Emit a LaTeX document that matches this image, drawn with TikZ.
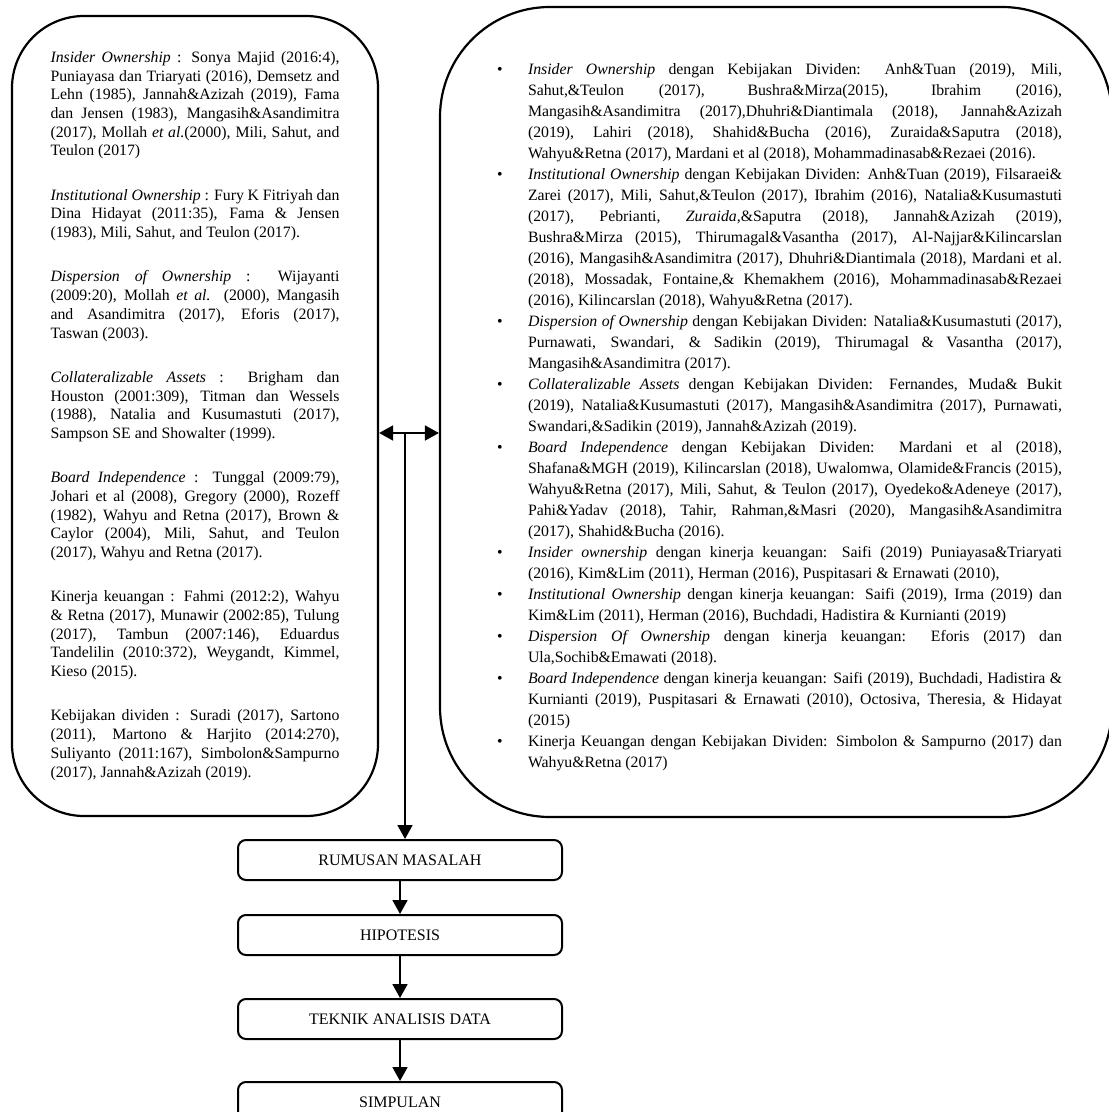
\documentclass[tikz,border=0pt]{standalone}
\usepackage{fontspec}
\setmainfont{Liberation Serif}
\usepackage{tikz}
\usetikzlibrary{arrows.meta,positioning}

\newcommand{\butir}{\par\hangindent=19pt\hangafter=1\noindent\hbox to 19pt{\hskip3.6pt\textbullet\hfil}}

\begin{document}
\begin{tikzpicture}[
				x=0.5pt,y=-0.5pt,
				kotak/.style={draw,line width=1.1pt,inner sep=0pt,align=justify,execute at begin node={\parindent=0pt\hyphenpenalty=10000}},
				alur/.style={draw,line width=1pt,rounded corners=4pt,minimum width=162pt,minimum height=20pt,font=\fontsize{8}{9.6}\selectfont},
				garis/.style={line width=0.9pt},
				>={Triangle[length=7pt,width=7.5pt]}
				]
				\useasboundingbox (0,0) rectangle (1108,1112);
				
				% landasan teori
				\node[kotak,rounded corners=36pt,minimum width=183pt,minimum height=400pt,text width=144.5pt,font=\fontsize{7.9}{9.35}\selectfont] (teori) at (195,416) {%
					\textit{Insider Ownership} : Sonya Majid (2016:4),\linebreak Puniayasa dan Triaryati (2016), Demsetz and\linebreak Lehn (1985), Jannah\&Azizah (2019), Fama\linebreak dan Jensen (1983), Mangasih\&Asandimitra\linebreak (2017), Mollah \textit{et al.}(2000), Mili, Sahut, and\linebreak Teulon (2017)\par\vspace{12.8pt}
					\textit{Institutional Ownership} : Fury K Fitriyah dan\linebreak Dina Hidayat (2011:35), Fama \& Jensen\linebreak (1983), Mili, Sahut, and Teulon (2017).\par\vspace{12.8pt}
					\textit{Dispersion of Ownership} : Wijayanti\linebreak (2009:20), Mollah \textit{et al.} (2000), Mangasih\linebreak and Asandimitra (2017), Eforis (2017),\linebreak Taswan (2003).\par\vspace{12.8pt}
					\textit{Collateralizable Assets} : Brigham dan\linebreak Houston (2001:309), Titman dan Wessels\linebreak (1988), Natalia and Kusumastuti (2017),\linebreak Sampson SE and Showalter (1999).\par\vspace{12.8pt}
					\textit{Board Independence} : Tunggal (2009:79),\linebreak Johari et al (2008), Gregory (2000), Rozeff\linebreak (1982), Wahyu and Retna (2017), Brown \&\linebreak Caylor (2004), Mili, Sahut, and Teulon\linebreak (2017), Wahyu and Retna (2017).\par\vspace{12.8pt}
					Kinerja keuangan : Fahmi (2012:2), Wahyu\linebreak \& Retna (2017), Munawir (2002:85), Tulung\linebreak (2017), Tambun (2007:146), Eduardus\linebreak Tandelilin (2010:372), Weygandt, Kimmel,\linebreak Kieso (2015).\par\vspace{12.8pt}
					Kebijakan dividen : Suradi (2017), Sartono\linebreak (2011), Martono \& Harjito (2014:270),\linebreak Suliyanto (2011:167), Simbolon\&Sampurno\linebreak (2017), Jannah\&Azizah (2019).};
				
				% penelitian terdahulu
				\node[kotak,rounded corners=55pt,minimum width=336pt,minimum height=405pt,text width=286pt,font=\fontsize{7.9}{10.5}\selectfont] (penelitian) at (776,412) {%
					\butir\textit{Insider Ownership} dengan Kebijakan Dividen: Anh\&Tuan (2019), Mili,\linebreak Sahut,\&Teulon (2017), Bushra\&Mirza(2015), Ibrahim (2016),\linebreak Mangasih\&Asandimitra (2017),Dhuhri\&Diantimala (2018), Jannah\&Azizah\linebreak (2019), Lahiri (2018), Shahid\&Bucha (2016), Zuraida\&Saputra (2018),\linebreak Wahyu\&Retna (2017), Mardani et al (2018), Mohammadinasab\&Rezaei (2016).
					\butir\textit{Institutional Ownership} dengan Kebijakan Dividen: Anh\&Tuan (2019), Filsaraei\&\linebreak Zarei (2017), Mili, Sahut,\&Teulon (2017), Ibrahim (2016), Natalia\&Kusumastuti\linebreak (2017), Pebrianti, \textit{Zuraida},\&Saputra (2018), Jannah\&Azizah (2019),\linebreak Bushra\&Mirza (2015), Thirumagal\&Vasantha (2017), Al-Najjar\&Kilincarslan\linebreak (2016), Mangasih\&Asandimitra (2017), Dhuhri\&Diantimala (2018), Mardani et al.\linebreak (2018), Mossadak, Fontaine,\& Khemakhem (2016), Mohammadinasab\&Rezaei\linebreak (2016), Kilincarslan (2018), Wahyu\&Retna (2017).
					\butir\textit{Dispersion of Ownership} dengan Kebijakan Dividen: Natalia\&Kusumastuti (2017),\linebreak Purnawati, Swandari, \& Sadikin (2019), Thirumagal \& Vasantha (2017),\linebreak Mangasih\&Asandimitra (2017).
					\butir\textit{Collateralizable Assets} dengan Kebijakan Dividen: Fernandes, Muda\& Bukit\linebreak (2019), Natalia\&Kusumastuti (2017), Mangasih\&Asandimitra (2017), Purnawati,\linebreak Swandari,\&Sadikin (2019), Jannah\&Azizah (2019).
					\butir\textit{Board Independence} dengan Kebijakan Dividen: Mardani et al (2018),\linebreak Shafana\&MGH (2019), Kilincarslan (2018), Uwalomwa, Olamide\&Francis (2015),\linebreak Wahyu\&Retna (2017), Mili, Sahut, \& Teulon (2017), Oyedeko\&Adeneye (2017),\linebreak Pahi\&Yadav (2018), Tahir, Rahman,\&Masri (2020), Mangasih\&Asandimitra\linebreak (2017), Shahid\&Bucha (2016).
					\butir\textit{Insider ownership} dengan kinerja keuangan: Saifi (2019) Puniayasa\&Triaryati\linebreak (2016), Kim\&Lim (2011), Herman (2016), Puspitasari \& Ernawati (2010),
					\butir\textit{Institutional Ownership} dengan kinerja keuangan: Saifi (2019), Irma (2019) dan\linebreak Kim\&Lim (2011), Herman (2016), Buchdadi, Hadistira \& Kurnianti (2019)
					\butir\textit{Dispersion Of Ownership} dengan kinerja keuangan: Eforis (2017) dan\linebreak Ula,Sochib\&Emawati (2018).
					\butir\textit{Board Independence} dengan kinerja keuangan: Saifi (2019), Buchdadi, Hadistira \&\linebreak Kurnianti (2019), Puspitasari \& Ernawati (2010), Octosiva, Theresia, \& Hidayat\linebreak (2015)
					\butir Kinerja Keuangan dengan Kebijakan Dividen: Simbolon \& Sampurno (2017) dan\linebreak Wahyu\&Retna (2017)\par};
				
				% alur penelitian
				\node[alur] (rumusan) at (400,860) {RUMUSAN MASALAH};
				\node[alur,below=16.5pt of rumusan] (hipotesis) {HIPOTESIS};
				\node[alur,below=21pt of hipotesis] (teknik) {TEKNIK ANALISIS DATA};
				\node[alur,below=20.5pt of teknik] (simpulan) {SIMPULAN};
				
				% the arrows
				\coordinate (simpang) at (405,433);
				\draw[<->,garis] (teori.east |- simpang) -- (penelitian.west |- simpang);
				\draw[->,garis] (simpang) -- (rumusan.north -| simpang);
				\draw[->,garis] (rumusan) -- (hipotesis);
				\draw[->,garis] (hipotesis) -- (teknik);
				\draw[->,garis] (teknik) -- (simpulan);
			\end{tikzpicture}
\end{document}
